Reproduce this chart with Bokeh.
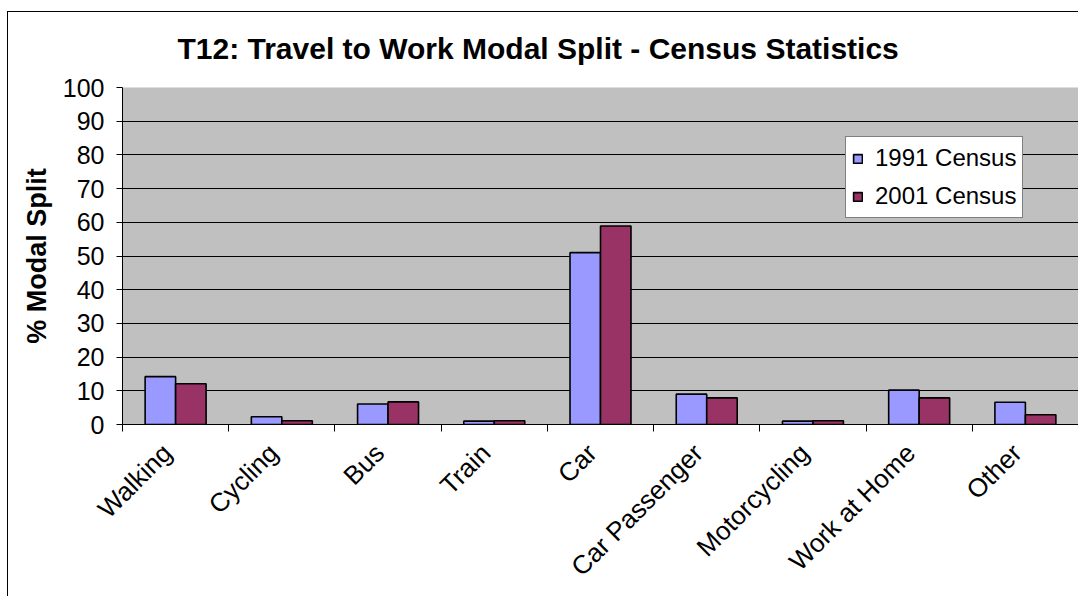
from bokeh.plotting import figure
from bokeh.models import FixedTicker, Range1d, Legend, LegendItem, ColumnDataSource, Title
from bokeh.embed import file_html
from bokeh.resources import INLINE

categories = ["Walking", "Cycling", "Bus", "Train", "Car", "Car Passenger",
              "Motorcycling", "Work at Home", "Other"]
census_1991 = [14.2, 2.3, 6.1, 1.0, 51.0, 9.0, 1.0, 10.2, 6.6]
census_2001 = [12.1, 1.1, 6.7, 1.1, 58.9, 7.9, 1.1, 7.9, 2.9]
series_names = ["1991 Census", "2001 Census"]
y_ticks = list(range(0, 101, 10))
title_text = "T12: Travel to Work Modal Split - Census Statistics"

FONT = "Liberation Sans"
centers = [i + 0.5 for i in range(len(categories))]
label_pos = [c - 0.08 for c in centers]
bw = 0.287

src = ColumnDataSource(dict(
    x1=[c - bw / 2 for c in centers],
    x2=[c + bw / 2 for c in centers],
    v1=census_1991,
    v2=census_2001,
))

p = figure(width=1071, height=591, output_backend="svg", toolbar_location=None,
           x_range=Range1d(0, len(categories)), y_range=Range1d(0, 100),
           min_border_left=115, min_border_right=0, min_border_top=82,
           min_border_bottom=172)
# chart-area border (top and left edges) drawn as a background behind the canvas
p.styles = {"margin-top": "5px", "margin-left": "7px",
            "background": "linear-gradient(black, black) 0 6px / 100% 1px no-repeat, "
                          "linear-gradient(black, black) 0 6px / 1px 100% no-repeat, white"}
p.background_fill_color = "#C0C0C0"
p.border_fill_color = None
p.outline_line_color = None

r1 = p.vbar(x="x1", top="v1", width=bw, source=src, fill_color="#9999FF",
            line_color="black", line_width=1.6)
r2 = p.vbar(x="x2", top="v2", width=bw, source=src, fill_color="#993366",
            line_color="black", line_width=1.6)

# x axis: labels at category centres, ticks at category boundaries
xa = p.xaxis[0]
xa.ticker = FixedTicker(ticks=label_pos, minor_ticks=list(range(len(categories) + 1)))
xa.major_label_overrides = {c: name for c, name in zip(label_pos, categories)}
xa.major_tick_out = 0
xa.major_tick_in = 0
xa.minor_tick_out = 7
xa.minor_tick_in = 0
xa.minor_tick_line_color = "black"
xa.axis_line_color = "black"
xa.axis_line_width = 1
xa.major_label_orientation = 0.785398
xa.major_label_text_font = FONT
xa.major_label_text_font_size = "26px"
xa.major_label_text_color = "black"
xa.major_label_standoff = 17

ya = p.yaxis[0]
ya.ticker = FixedTicker(ticks=y_ticks)
ya.major_tick_out = 6
ya.major_tick_in = 0
ya.minor_tick_line_color = None
ya.axis_line_color = "black"
ya.major_tick_line_color = "black"
ya.major_label_text_font = FONT
ya.major_label_text_font_size = "25px"
ya.major_label_text_color = "black"
ya.major_label_standoff = 12
ya.axis_label = "% Modal Split"
ya.axis_label_text_font = FONT
ya.axis_label_text_font_size = "27px"
ya.axis_label_text_font_style = "bold"
ya.axis_label_text_color = "black"
ya.axis_label_standoff = 8

p.xgrid.grid_line_color = None
p.ygrid.grid_line_color = "black"
p.ygrid.grid_line_width = 1

t = Title(text=title_text, align="left", offset=55, text_font=FONT,
          text_font_size="30px", text_font_style="bold", text_color="black",
          standoff=46)
p.add_layout(t, "above")

legend = Legend(items=[LegendItem(label=series_names[0], renderers=[r1]),
                       LegendItem(label=series_names[1], renderers=[r2])],
                location=(723, 206), label_text_font=FONT,
                label_text_font_size="24px", label_text_color="black",
                label_height=30, glyph_height=11,
                glyph_width=11, spacing=8, padding=6, margin=0,
                label_standoff=12, border_line_color="black",
                border_line_width=1, background_fill_color="white",
                background_fill_alpha=1)
p.add_layout(legend, "center")

open("out.html", "w").write(file_html(p, INLINE))
